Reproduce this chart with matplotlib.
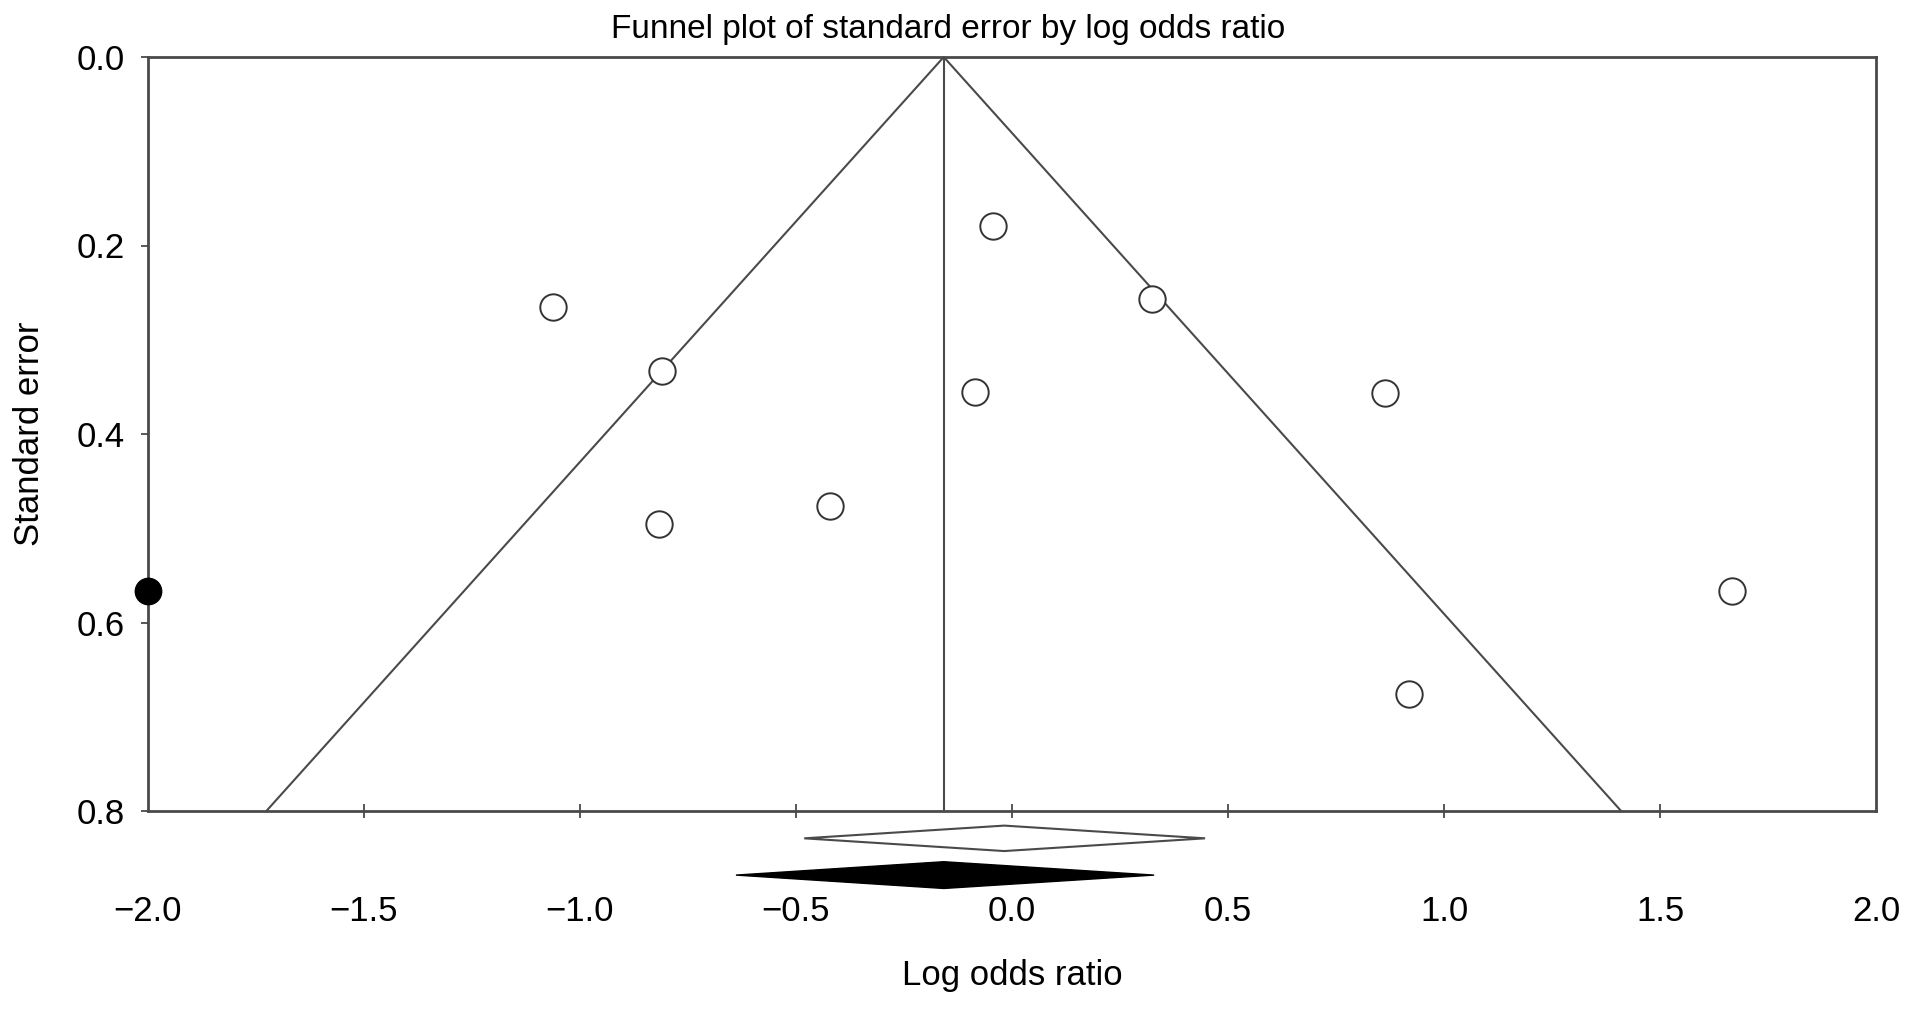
import matplotlib
matplotlib.use("Agg")
import matplotlib.pyplot as plt
from matplotlib.patches import Polygon

# observed studies (log odds ratio, standard error)
log_or = [-0.045, -1.062, 0.324, -0.811, -0.085, 0.864, -0.816, -0.421, 1.667, 0.918]
std_err = [0.179, 0.265, 0.257, 0.333, 0.355, 0.356, 0.496, 0.476, 0.567, 0.676]

# imputed study (trim and fill)
imp_log_or = [-2.0]
imp_std_err = [0.567]

# pooled estimates: (center, lower, upper)
observed_est = (-0.018, -0.481, 0.447)
adjusted_est = (-0.158, -0.639, 0.329)

xticks = [-2.0, -1.5, -1.0, -0.5, 0.0, 0.5, 1.0, 1.5, 2.0]
yticks = [0.0, 0.2, 0.4, 0.6, 0.8]

line_col = "#4a4a4a"

plt.rcParams["font.family"] = ["Liberation Sans", "DejaVu Sans"]

fig = plt.figure(figsize=(19.13, 10.09), dpi=100)
ax = fig.add_axes([148 / 1913, 1 - 811 / 1009, (1876 - 148) / 1913, (811 - 57) / 1009])

center = adjusted_est[0]
se_max = 0.8
ax.plot([center - 1.96 * se_max, center, center + 1.96 * se_max], [se_max, 0, se_max],
        color=line_col, lw=1.5, clip_on=False)
ax.plot([center, center], [0, se_max], color=line_col, lw=1.5)

ax.plot(log_or, std_err, "o", ms=19, mfc="white", mec="#333333", mew=1.4, zorder=3)
ax.plot(imp_log_or, imp_std_err, "o", ms=19, mfc="black", mec="black", zorder=4, clip_on=False)

# diamonds below the axis
def diamond(est, ymid, half_h, **kw):
    c, lo, hi = est
    pts = [(lo, ymid), (c, ymid - half_h), (hi, ymid), (c, ymid + half_h)]
    p = Polygon(pts, closed=True, clip_on=False, **kw)
    ax.add_patch(p)

diamond(observed_est, 0.829, 0.0135, facecolor="white", edgecolor=line_col, lw=1.5)
diamond(adjusted_est, 0.868, 0.0142, facecolor="black", edgecolor="black", lw=1)

ax.set_xlim(-2.0, 2.0)
ax.set_ylim(0.8, 0.0)
ax.set_xticks(xticks[1:-1])
ax.set_xticks([xticks[0], xticks[-1]], minor=True)
ax.set_yticks(yticks)
ax.set_xticklabels(["\u2212%.1f" % abs(v) if v < 0 else "%.1f" % v for v in xticks[1:-1]])
ax.set_xticklabels(["\u2212%.1f" % abs(xticks[0]), "%.1f" % xticks[-1]], minor=True)
ax.set_yticklabels(["%.1f" % v for v in yticks])
ax.tick_params(axis="x", which="major", direction="inout", length=9.5, width=1.3,
               color=line_col, labelsize=25, pad=56)
ax.tick_params(axis="x", which="minor", length=0, labelsize=25, pad=60.5)
ax.tick_params(axis="y", direction="out", length=5, width=1.3, color=line_col,
               labelsize=25, pad=12)
for s in ax.spines.values():
    s.set_color(line_col)
    s.set_linewidth(2)

ax.set_xlabel("Log odds ratio", fontsize=25, labelpad=22)
ax.set_ylabel("Standard error", fontsize=25, labelpad=22)

fig.text(948 / 1913, 1 - 38 / 1009, "Funnel plot of standard error by log odds ratio",
         ha="center", va="baseline", fontsize=24,
         family=["Liberation Sans Narrow", "Liberation Sans", "DejaVu Sans"])

fig.savefig("out.png", dpi=100)
